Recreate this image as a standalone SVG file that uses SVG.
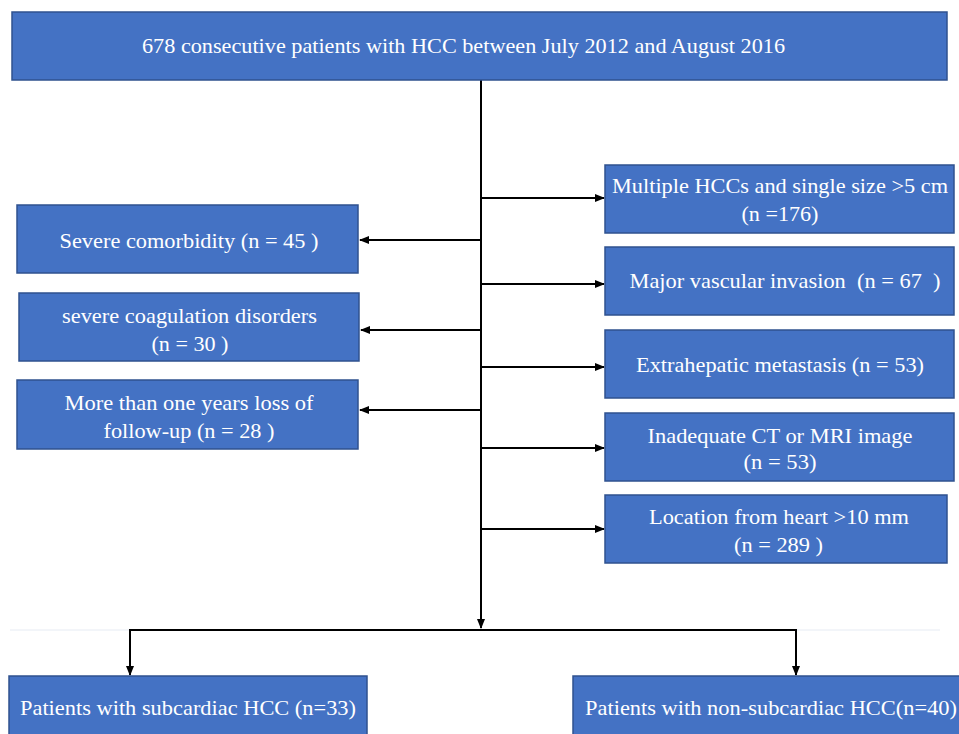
<svg xmlns="http://www.w3.org/2000/svg" width="959" height="734" viewBox="0 0 959 734" font-family="Liberation Serif, Times New Roman, serif">
<style>
.box{fill:#4472C4;stroke:#2F528F;stroke-width:1.5}
.t{font-family:'Liberation Serif','Times New Roman',serif;font-size:21px;fill:#fff;text-anchor:middle}
.c{stroke:#000;stroke-width:2;fill:none}
</style>
<defs>
<marker id="a" markerWidth="10" markerHeight="10" refX="9" refY="5" orient="auto" markerUnits="userSpaceOnUse">
<path d="M0,1 L10,5 L0,9 Z" fill="#000"/>
</marker>
</defs>
<rect width="959" height="734" fill="#fff"/>
<line x1="10" y1="630" x2="940" y2="630" stroke="#e6ebf3" stroke-width="1"/>
<g id="connectors">
<line class="c" x1="481" y1="80" x2="481" y2="628" marker-end="url(#a)"/>
<line class="c" x1="481" y1="240" x2="360" y2="240" marker-end="url(#a)"/>
<line class="c" x1="481" y1="330" x2="361" y2="330" marker-end="url(#a)"/>
<line class="c" x1="481" y1="410" x2="360" y2="410" marker-end="url(#a)"/>
<line class="c" x1="481" y1="198" x2="604" y2="198" marker-end="url(#a)"/>
<line class="c" x1="481" y1="284" x2="604" y2="284" marker-end="url(#a)"/>
<line class="c" x1="481" y1="367" x2="604" y2="367" marker-end="url(#a)"/>
<line class="c" x1="481" y1="448" x2="604" y2="448" marker-end="url(#a)"/>
<line class="c" x1="481" y1="529" x2="604" y2="529" marker-end="url(#a)"/>
<polyline class="c" points="130,660 130,630 796,630 796,660" stroke-width="3"/>
<line class="c" x1="130" y1="640" x2="130" y2="675" marker-end="url(#a)"/>
<line class="c" x1="796" y1="640" x2="796" y2="675" marker-end="url(#a)"/>
</g>
<g id="top">
<rect class="box" x="12" y="12" width="935" height="68"/>
<text class="t" x="463.5" y="53" textLength="643" lengthAdjust="spacingAndGlyphs">678 consecutive patients with HCC between July 2012 and August 2016</text>
</g>
<g id="l1">
<rect class="box" x="17" y="205" width="341" height="68"/>
<text class="t" x="189" y="248" textLength="259" lengthAdjust="spacingAndGlyphs">Severe comorbidity (n = 45 )</text>
</g>
<g id="l2">
<rect class="box" x="19" y="293" width="340" height="68"/>
<text class="t" x="189.5" y="323" textLength="255" lengthAdjust="spacingAndGlyphs">severe coagulation disorders</text>
<text class="t" x="190" y="351" textLength="77" lengthAdjust="spacingAndGlyphs">(n = 30 )</text>
</g>
<g id="l3">
<rect class="box" x="17" y="380" width="341" height="69"/>
<text class="t" x="189" y="410" textLength="249" lengthAdjust="spacingAndGlyphs">More than one years loss of</text>
<text class="t" x="189" y="438" textLength="171" lengthAdjust="spacingAndGlyphs">follow-up (n = 28 )</text>
</g>
<g id="r1">
<rect class="box" x="605" y="165" width="349" height="68"/>
<text class="t" x="780" y="193" textLength="336" lengthAdjust="spacingAndGlyphs">Multiple HCCs and single size &gt;5 cm</text>
<text class="t" x="780" y="221" textLength="77" lengthAdjust="spacingAndGlyphs">(n =176)</text>
</g>
<g id="r2">
<rect class="box" x="605" y="247" width="349" height="68"/>
<text class="t" x="785" y="288" xml:space="preserve" textLength="311" lengthAdjust="spacingAndGlyphs">Major vascular invasion  (n = 67  )</text>
</g>
<g id="r3">
<rect class="box" x="605" y="330" width="349" height="68"/>
<text class="t" x="780" y="372" textLength="288" lengthAdjust="spacingAndGlyphs">Extrahepatic metastasis (n = 53)</text>
</g>
<g id="r4">
<rect class="box" x="605" y="413" width="349" height="68"/>
<text class="t" x="780" y="443" textLength="265" lengthAdjust="spacingAndGlyphs">Inadequate CT or MRI image</text>
<text class="t" x="780" y="469" textLength="73" lengthAdjust="spacingAndGlyphs">(n = 53)</text>
</g>
<g id="r5">
<rect class="box" x="605" y="495" width="342" height="68"/>
<text class="t" x="779" y="524" textLength="260" lengthAdjust="spacingAndGlyphs">Location from heart &gt;10 mm</text>
<text class="t" x="778.5" y="552" textLength="89" lengthAdjust="spacingAndGlyphs">(n = 289 )</text>
</g>
<g id="b1">
<rect class="box" x="9" y="676" width="358" height="62"/>
<text class="t" x="188" y="715" font-size="23" textLength="336" lengthAdjust="spacingAndGlyphs">Patients with subcardiac HCC (n=33)</text>
</g>
<g id="b2">
<rect class="box" x="573" y="676" width="390" height="62"/>
<text class="t" x="771" y="715" font-size="23" textLength="372" lengthAdjust="spacingAndGlyphs">Patients with non-subcardiac HCC(n=40)</text>
</g>
</svg>
